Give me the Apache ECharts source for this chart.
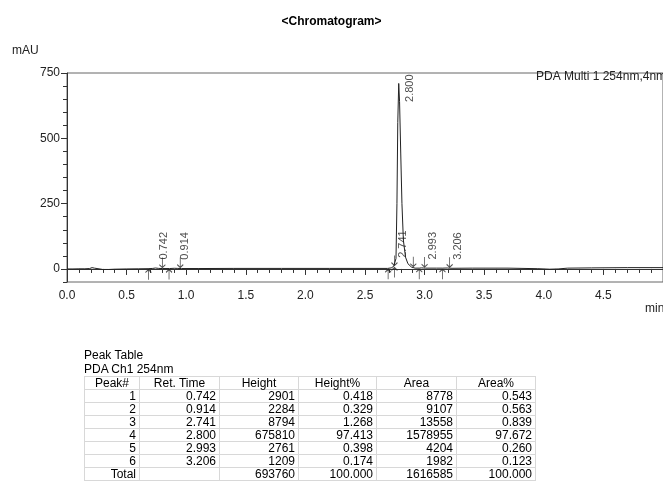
<!DOCTYPE html>
<html>
<head>
<meta charset="utf-8">
<script src="https://cdn.jsdelivr.net/npm/echarts@6/dist/echarts.min.js"></script>
<style>
  html, body { margin: 0; padding: 0; background: #fff; }
  #chart { position: absolute; left: 0; top: 0; width: 663px; height: 481px; }
  #peakTable {
    position: absolute; left: 84px; top: 348px;
    font-family: 'Liberation Sans', Arial, sans-serif; font-size: 12px; color: #000;
  }
  #peakTable .cap { line-height: 14px; height: 14px; }
  #peakTable table { border-collapse: collapse; table-layout: fixed; }
  #peakTable td, #peakTable th {
    border: 1px solid #d8d8d8; padding: 0 3px; height: 12px; line-height: 12px;
    font-weight: normal; text-align: right; white-space: nowrap;
  }
  #peakTable th { text-align: center; }
</style>
</head>
<body>
<div id="chart"></div>
<div id="peakTable"></div>
<script>
// chromatogram trace (min, mAU)
const times = [0.00, 0.05, 0.10, 0.15, 0.19, 0.21, 0.23, 0.26, 0.30, 0.35, 0.40, 0.50, 0.60, 0.68, 0.72, 0.742,
  0.77, 0.80, 0.86, 0.90, 0.914, 0.93, 0.96, 1.10, 1.40, 1.80, 2.20, 2.50, 2.69, 2.72, 2.741, 2.750, 2.760,
  2.768, 2.775, 2.783, 2.790, 2.800, 2.810, 2.822, 2.840, 2.860, 2.890, 2.920, 2.955, 2.975, 2.993, 3.01,
  3.10, 3.15, 3.19, 3.206, 3.23, 3.40, 3.70, 3.95, 4.05, 4.12, 4.20, 4.40, 4.70, 5.00];
const absorb = [0, 0, 0.5, 0.5, 1.5, 5, 3, 1, -2, -2, -1, 0, 0.5, 1, 2, 3.5,
  2, 1.5, 1.5, 2.5, 3, 2, 1.5, 1.5, 2, 2, 2, 2, 2, 4, 10, 9, 40,
  250, 560, 710, 640, 440, 250, 110, 45, 20, 7, 3, 3, 4, 3.5, 3,
  3, 3, 3.5, 2.5, 2.5, 3, 3, 1, -1, 0, 3, 4, 5, 5];

// peak table
const peakNo = [1, 2, 3, 4, 5, 6];
const retTime = [0.742, 0.914, 2.741, 2.800, 2.993, 3.206];
const peakHeight = [2901, 2284, 8794, 675810, 2761, 1209];
const heightPct = [0.418, 0.329, 1.268, 97.413, 0.398, 0.174];
const peakArea = [8778, 9107, 13558, 1578955, 4204, 1982];
const areaPct = [0.543, 0.563, 0.839, 97.672, 0.260, 0.123];
const totals = { height: 693760, heightPct: 100.000, area: 1616585, areaPct: 100.000 };

// label anchor level above each peak (mAU)
const peakTop = [3.5, 3, 10, 710, 3.5, 2.5];
// integration marks (min)
const peakStart = [0.683, 0.856, 2.694, 2.747, 2.955, 3.150];
const peakEnd = [0.800, 0.950, 2.747, 2.905, 3.000, 3.210];

const yTicks = [0, 250, 500, 750];
const yMinor = [-50, 0, 50, 100, 150, 200, 250, 300, 350, 400, 450, 500, 550, 600, 650, 700, 750];

const FONT = 'Liberation Sans';

function levelAt(t) {
  for (let i = 1; i < times.length; i++) {
    if (t <= times[i]) {
      const f = (t - times[i - 1]) / (times[i] - times[i - 1]);
      return absorb[i - 1] + f * (absorb[i] - absorb[i - 1]);
    }
  }
  return absorb[absorb.length - 1];
}

const arrowPath = 'path://M0,4 L4,0 L8,4 M4,0 L4,14';

const chart = echarts.init(document.getElementById('chart'));
chart.setOption({
  animation: false,
  title: {
    text: '<Chromatogram>',
    left: 'center',
    top: 11,
    textStyle: { fontFamily: FONT, fontSize: 12, fontWeight: 'bold', color: '#000' },
  },
  grid: {
    left: 67, right: -6, top: 73, bottom: 199,
    show: true, borderColor: '#666', borderWidth: 1,
  },
  xAxis: {
    type: 'value',
    min: 0,
    max: 5,
    interval: 0.5,
    axisLine: { lineStyle: { color: '#333' } },
    axisTick: { length: 6, lineStyle: { color: '#333' } },
    minorTick: { show: true, splitNumber: 5, length: 4, lineStyle: { color: '#333' } },
    splitLine: { show: false },
    axisLabel: {
      margin: 8, fontFamily: FONT, fontSize: 12, color: '#222', showMaxLabel: false,
      formatter: (v) => v.toFixed(1),
    },
  },
  yAxis: [
    {
      type: 'value',
      min: -50,
      max: 750,
      axisLine: { show: true, lineStyle: { color: '#333' } },
      axisTick: { show: true, customValues: yTicks, length: 6, lineStyle: { color: '#333' } },
      splitLine: { show: false },
      axisLabel: { customValues: yTicks, margin: 7, fontFamily: FONT, fontSize: 12, color: '#222' },
    },
    {
      type: 'value',
      min: -50,
      max: 750,
      position: 'left',
      axisLine: { show: false },
      axisTick: { show: true, customValues: yMinor, length: 4, lineStyle: { color: '#333' } },
      splitLine: { show: false },
      axisLabel: { show: false },
    },
  ],
  graphic: [
    { type: 'text', left: 12, top: 45, style: { text: 'mAU', font: '12px ' + FONT, fill: '#222' } },
    { type: 'text', left: 645, top: 303, style: { text: 'min', font: '12px ' + FONT, fill: '#222' } },
    { type: 'text', left: 536, top: 71, style: { text: 'PDA Multi 1 254nm,4nm', font: '12px ' + FONT, fill: '#222' } },
  ],
  series: [
    {
      type: 'line',
      data: times.map((t, i) => [t, absorb[i]]),
      showSymbol: false,
      lineStyle: { width: 1, color: '#222' },
      clip: true,
      z: 3,
    },
    {
      type: 'scatter',
      // label offsets are in the rotated frame: [along text (up), across (right)]
      data: retTime.map((t, i) => ({
        value: [t, peakTop[i]],
        label: peakTop[i] > 600 ? { offset: [-19, 9] } : {},
      })),
      symbolSize: 1,
      itemStyle: { color: 'rgba(0,0,0,0)' },
      label: {
        show: true,
        position: 'top',
        distance: 0,
        rotate: 90,
        align: 'left',
        verticalAlign: 'middle',
        offset: [8, 9],
        fontFamily: FONT,
        fontSize: 11,
        color: '#222',
        formatter: (p) => p.value[0].toFixed(3),
      },
      z: 4,
    },
    {
      type: 'scatter',
      data: peakStart.map((t) => [t, levelAt(t)]),
      symbol: arrowPath,
      symbolSize: [6, 10],
      symbolOffset: [0, 6],
      itemStyle: { color: 'none', borderColor: '#222', borderWidth: 1 },
      z: 4,
    },
    {
      type: 'scatter',
      data: peakEnd.map((t) => [t, levelAt(t)]),
      symbol: arrowPath,
      symbolSize: [6, 10],
      symbolRotate: 180,
      symbolOffset: [0, -6],
      itemStyle: { color: 'none', borderColor: '#222', borderWidth: 1 },
      z: 4,
    },
  ],
});

// peak table below the chart
const fmt3 = (v) => v.toFixed(3);
let html = '<div class="cap">Peak Table</div><div class="cap">PDA Ch1 254nm</div>';
html += '<table><colgroup>' + [55, 80, 79, 78, 80, 79].map((w) => `<col style="width:${w}px">`).join('') + '</colgroup>';
html += '<tr><th>Peak#</th><th>Ret. Time</th><th>Height</th><th>Height%</th><th>Area</th><th>Area%</th></tr>';
peakNo.forEach((n, i) => {
  html += `<tr><td>${n}</td><td>${fmt3(retTime[i])}</td><td>${peakHeight[i]}</td><td>${fmt3(heightPct[i])}</td><td>${peakArea[i]}</td><td>${fmt3(areaPct[i])}</td></tr>`;
});
html += `<tr><td>Total</td><td></td><td>${totals.height}</td><td>${fmt3(totals.heightPct)}</td><td>${totals.area}</td><td>${fmt3(totals.areaPct)}</td></tr>`;
html += '</table>';
document.getElementById('peakTable').innerHTML = html;
</script>
</body>
</html>
